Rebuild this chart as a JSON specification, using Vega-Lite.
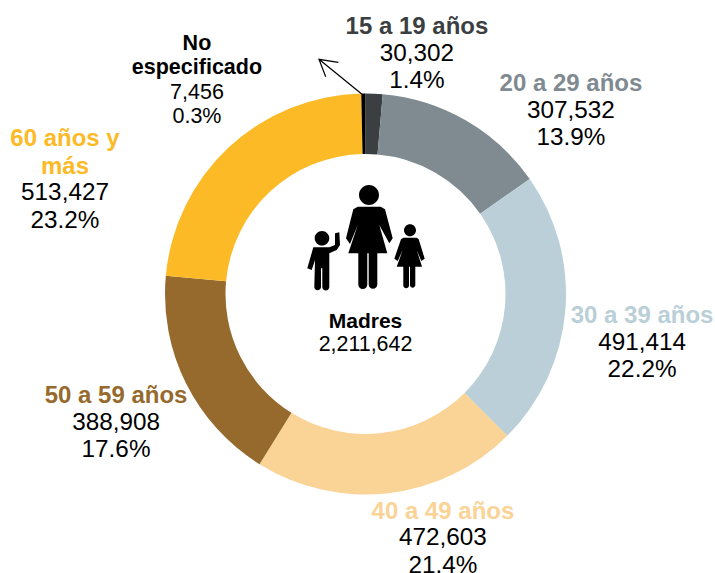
{
  "$schema": "https://vega.github.io/schema/vega-lite/v6.json",
  "width": 699,
  "height": 558,
  "autosize": "none",
  "padding": {"left": 16, "top": 15, "right": 0, "bottom": 0},
  "background": "white",
  "config": {"view": {"stroke": null}},
  "datasets": {
    "madres": [
      {"orden": 0, "edad": "15 a 19 años", "madres": 30302, "rotulo": "30,302\n1.4%"},
      {"orden": 1, "edad": "20 a 29 años", "madres": 307532, "rotulo": "307,532\n13.9%"},
      {"orden": 2, "edad": "30 a 39 años", "madres": 491414, "rotulo": "491,414\n22.2%"},
      {"orden": 3, "edad": "40 a 49 años", "madres": 472603, "rotulo": "472,603\n21.4%"},
      {"orden": 4, "edad": "50 a 59 años", "madres": 388908, "rotulo": "388,908\n17.6%"},
      {"orden": 5, "edad": "60 años y\nmás", "madres": 513427, "rotulo": "513,427\n23.2%"},
      {"orden": 6, "edad": "No\nespecificado", "madres": 7456, "rotulo": "7,456\n0.3%"}
    ]
  },
  "layer": [
    {
      "data": {"name": "madres"},
      "mark": {"type": "arc", "radius": 200.5, "radius2": 140},
      "encoding": {
        "theta": {"field": "madres", "type": "quantitative", "stack": true},
        "order": {"field": "orden", "type": "quantitative"},
        "color": {"field": "edad", "type": "nominal", "legend": null,
          "scale": {"domain": ["15 a 19 años", "20 a 29 años", "30 a 39 años", "40 a 49 años", "50 a 59 años", "60 años y\nmás", "No\nespecificado"],
                    "range": ["#3b3f42", "#7f8a91", "#bacfd7", "#fad396", "#956a2c", "#fdba27", "#000000"]}}
      }
    },
    {
      "data": {"name": "madres"},
      "mark": {"type": "text", "radius": 250, "font": "Liberation Sans", "fontWeight": "bold", "align": "center", "baseline": "bottom", "lineBreak": "\n",
        "lineHeight": {"expr": "datum.orden === 6 ? 24.5 : 27.5"},
        "dx": {"expr": "[40.7,80.6,27.5,48.9,-25.6,-130,-165.9][datum.orden]"},
        "dy": {"expr": "[-5.2,18.6,12.3,-18.4,2.7,40.3,10.5][datum.orden]"}},
      "encoding": {
        "theta": {"field": "madres", "type": "quantitative", "stack": true},
        "order": {"field": "orden", "type": "quantitative"},
        "text": {"field": "edad", "type": "nominal"},
        "color": {"field": "edad", "type": "nominal", "legend": null},
        "size": {"condition": {"test": "datum.orden === 6", "value": 21.5}, "value": 24}
      }
    },
    {
      "data": {"name": "madres"},
      "mark": {"type": "text", "radius": 250, "font": "Liberation Sans", "color": "#000000", "align": "center", "baseline": "top", "lineBreak": "\n",
        "lineHeight": {"expr": "datum.orden === 6 ? 24.5 : 27.5"},
        "dx": {"expr": "[40.7,80.6,27.5,48.9,-25.6,-130,-165.9][datum.orden]"},
        "dy": {"expr": "[-2.7,21.1,14.8,-15.9,5.2,70.3,37.5][datum.orden]"}},
      "encoding": {
        "theta": {"field": "madres", "type": "quantitative", "stack": true},
        "order": {"field": "orden", "type": "quantitative"},
        "text": {"field": "rotulo", "type": "nominal"},
        "size": {"condition": {"test": "datum.orden === 6", "value": 21.5}, "value": 24.3}
      }
    },
    {
      "data": {"values": [{"titulo": "Madres"}]},
      "mark": {"type": "text", "font": "Liberation Sans", "fontWeight": "bold", "fontSize": 21, "dy": 28, "color": "#000000"},
      "encoding": {"text": {"field": "titulo", "type": "nominal"}}
    },
    {
      "data": {"values": [{"total": "2,211,642"}]},
      "mark": {"type": "text", "font": "Liberation Sans", "fontSize": 21.4, "dy": 51, "color": "#000000"},
      "encoding": {"text": {"field": "total", "type": "nominal"}}
    },
    {
      "data": {"values": [{"elemento": "flecha"}]},
      "mark": {"type": "point", "filled": false, "stroke": "#000000", "strokeWidth": 1.2, "opacity": 1, "size": 4,
        "shape": "M-3.8,-200 L-46.5,-234.7 M-27.2,-231.7 L-46.5,-234.7 L-39.8,-217.3"},
      "encoding": {}
    },
    {
      "data": {"values": [{"elemento": "icono"}]},
      "mark": {"type": "point", "filled": true, "fill": "#000000", "opacity": 1, "size": 4,
        "shape": "M-6.5,-99 A10,10 0 1 1 13.5,-99 A10,10 0 1 1 -6.5,-99 Z M-7.8,-87.3 L15.2,-87.3 L19.5,-84.7 L27.2,-55.7 L23.8,-50.7 L13.8,-69 L21.8,-40.7 L11.8,-40.7 L11.8,-9.5 A4.3,4.3 0 0 1 3.2,-9.5 L3.2,-40.7 L1.8,-40.7 L1.8,-9.5 A4.5,4.5 0 0 1 -7.2,-9.5 L-7.2,-40.7 L-17.2,-40.7 L-7.8,-69 L-15.5,-50 L-19.5,-55.7 L-12.2,-84.7 Z M38.5,-63.7 A6,6 0 1 1 50.5,-63.7 A6,6 0 1 1 38.5,-63.7 Z M37.8,-56.3 L51.2,-56.3 L53.2,-54.7 L59.2,-35.3 L55.8,-33 L51.2,-44 L56.5,-27.3 L49.8,-27.3 L49.8,-8.5 A2.7,2.7 0 0 1 44.5,-8.5 L44.5,-27.3 L43.5,-27.3 L43.5,-8.5 A2.8,2.8 0 0 1 37.8,-8.5 L37.8,-27.3 L31.2,-27.3 L37.2,-44 L32.2,-33 L28.8,-35.3 L35.5,-54.7 Z M-50.8,-55.7 A7.3,7.3 0 1 1 -36.2,-55.7 A7.3,7.3 0 1 1 -50.8,-55.7 Z M-52.2,-46.7 L-36.2,-46.7 L-30.5,-49 L-30.5,-60.7 L-26.2,-61.7 L-25.5,-49 L-28.8,-44 L-36.2,-40.7 L-36.2,-7 A3.5,3.5 0 0 1 -43.2,-7 L-43.2,-25.7 L-44.5,-25.7 L-44.5,-7 A3.35,3.35 0 0 1 -51.2,-7 L-50.5,-34 L-53.8,-24 L-58.2,-25.7 Z"},
      "encoding": {}
    }
  ]
}
